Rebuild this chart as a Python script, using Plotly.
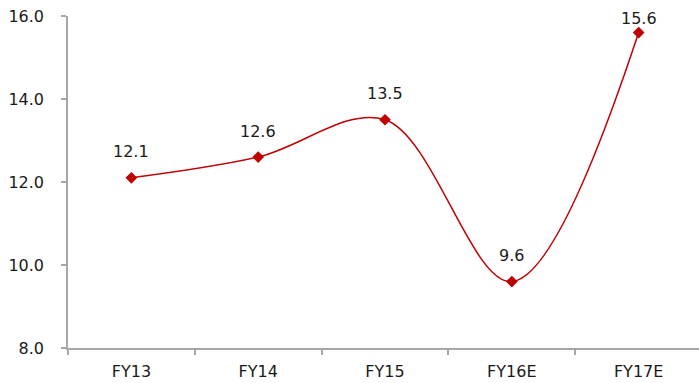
import plotly.graph_objects as go

# Annual values by fiscal year
years = ["FY13", "FY14", "FY15", "FY16E", "FY17E"]
values = [12.1, 12.6, 13.5, 9.6, 15.6]
y_ticks = [8.0, 10.0, 12.0, 14.0, 16.0]

W, H = 699, 383
M_L, M_R, M_T, M_B = 68, 0, 16, 35
Y_MIN, Y_MAX = 8.0, 16.0
plot_h = H - M_T - M_B

LINE_RED = "#c00000"
AXIS_GREY = "#a6a6a6"
TEXT = "#1a1a1a"
FONT = "DejaVu Sans"
FONT_SIZE = 16

fig = go.Figure()
fig.add_trace(go.Scatter(
    x=years, y=values,
    mode="lines+markers",
    line=dict(color=LINE_RED, width=1.5, shape="spline", smoothing=1.0),
    marker=dict(symbol="diamond", size=9, color=LINE_RED),
    hoverinfo="skip",
))

# Value labels above each point, kept inside the canvas near the top
for yr, v in zip(years, values):
    px_from_top = M_T + (Y_MAX - v) / (Y_MAX - Y_MIN) * plot_h
    shift = min(26, px_from_top - 19)
    fig.add_annotation(x=yr, y=v, text=f"{v:.1f}", showarrow=False,
                       yshift=shift, font=dict(size=FONT_SIZE, color=TEXT, family=FONT))

fig.update_layout(
    width=W, height=H,
    margin=dict(l=M_L, r=M_R, t=M_T, b=M_B),
    paper_bgcolor="white", plot_bgcolor="white",
    showlegend=False,
    font=dict(family=FONT, size=FONT_SIZE, color=TEXT),
)
fig.update_xaxes(
    type="category", range=[-0.5, 4.476],
    showline=True, linecolor=AXIS_GREY, linewidth=1.5,
    ticks="outside", tickson="boundaries", ticklen=5, tickcolor=AXIS_GREY, tickwidth=1.5,
    showgrid=False, zeroline=False,
    ticklabelstandoff=8,
)
fig.update_yaxes(
    range=[Y_MIN, Y_MAX], tickvals=y_ticks, tickformat=".1f",
    showline=True, linecolor=AXIS_GREY, linewidth=1.5,
    ticks="outside", ticklen=5, tickcolor=AXIS_GREY, tickwidth=1.5,
    showgrid=False, zeroline=False,
    ticklabelstandoff=14,
)

fig.write_html("out.html")
